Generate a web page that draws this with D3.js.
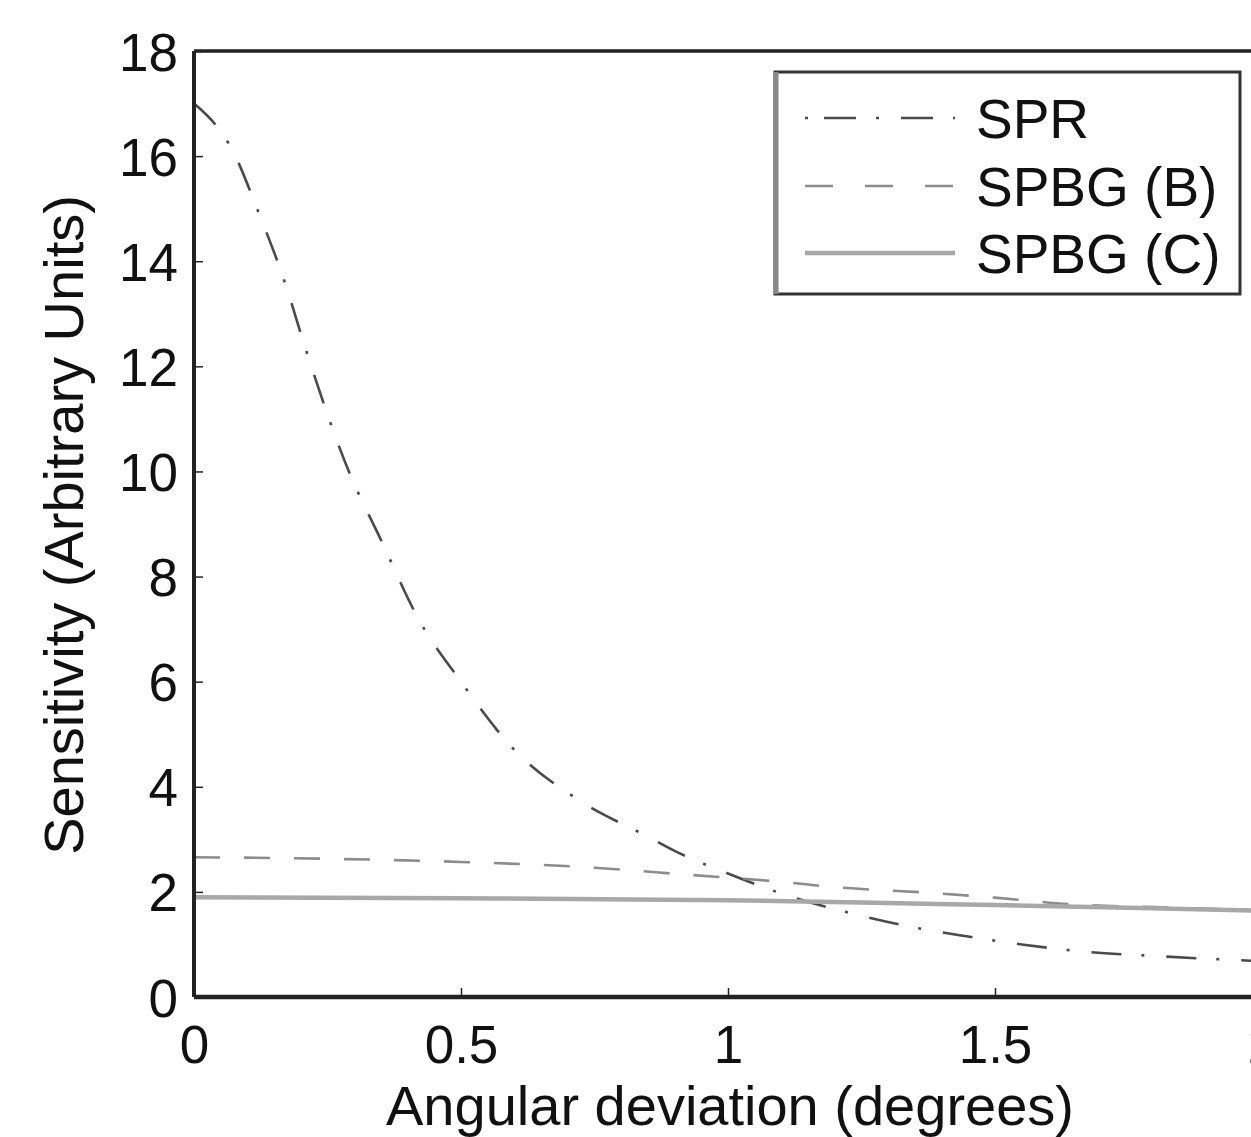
<!DOCTYPE html>
<html>
<head>
<meta charset="utf-8">
<script src="https://cdn.jsdelivr.net/npm/d3@7"></script>
<style>
  html, body { margin: 0; padding: 0; background: #fff; overflow: hidden; }
  svg { display: block; font-family: "Liberation Sans", Arial, sans-serif; }
</style>
</head>
<body>
<script>
// series: [angular deviation (deg), sensitivity]
const sprData = [
  [0, 17.0], [0.04, 16.6], [0.07, 16.15], [0.12, 14.95], [0.17, 13.6], [0.21, 12.3],
  [0.29, 10.0], [0.35, 8.7], [0.42, 7.2], [0.5, 6.0], [0.6, 4.7], [0.72, 3.75],
  [0.85, 3.05], [0.9, 2.78], [1.0, 2.35], [1.1, 1.97], [1.22, 1.62], [1.33, 1.36],
  [1.45, 1.15], [1.55, 1.0], [1.66, 0.87], [1.8, 0.78], [2.0, 0.68]
];
const spbgBData = [
  [0, 2.66], [0.25, 2.63], [0.5, 2.57], [0.75, 2.46], [0.92, 2.33], [1.1, 2.19],
  [1.2, 2.09], [1.38, 1.98], [1.5, 1.89], [1.65, 1.76], [1.8, 1.71], [2.0, 1.65]
];
const spbgCData = [
  [0, 1.90], [0.5, 1.88], [1.0, 1.84], [1.25, 1.80], [1.5, 1.75], [1.75, 1.70], [2.0, 1.64]
];
const xTicks = [0, 0.5, 1, 1.5, 2];
const yTicks = [0, 2, 4, 6, 8, 10, 12, 14, 16, 18];
const seriesNames = ["SPR", "SPBG (B)", "SPBG (C)"];

const W = 1251, H = 1137;
const plotLeft = 194, plotTop = 51, plotBottom = 997, plotRight = 1262;

const svg = d3.select("body").append("svg")
  .attr("width", W).attr("height", H);

const x = d3.scaleLinear().domain([0, 2]).range([plotLeft, plotRight]);
const y = d3.scaleLinear().domain([0, 18]).range([plotBottom, plotTop]);

const styles = [
  { stroke: "#4a4a4a", width: 2.6, dash: "30,20,3,22" },
  { stroke: "#8c8c8c", width: 2.6, dash: "26,24" },
  { stroke: "#a8a8a8", width: 4.5, dash: null }
];

svg.append("defs").append("clipPath").attr("id", "plotclip")
  .append("rect").attr("x", plotLeft).attr("y", plotTop)
  .attr("width", plotRight - plotLeft).attr("height", plotBottom - plotTop);

const line = d3.line()
  .x(d => x(d[0]))
  .y(d => y(d[1]))
  .curve(d3.curveMonotoneX);

const plot = svg.append("g").attr("clip-path", "url(#plotclip)");
[sprData, spbgBData, spbgCData].forEach((data, i) => {
  plot.append("path")
    .datum(data)
    .attr("fill", "none")
    .attr("stroke", styles[i].stroke)
    .attr("stroke-width", styles[i].width)
    .attr("stroke-dasharray", styles[i].dash)
    .attr("d", line);
});

// axes: ticks pointing inward, matlab-like
const gx = svg.append("g").attr("transform", `translate(0,${plotBottom})`)
  .call(d3.axisBottom(x).tickValues(xTicks).tickSize(-9).tickPadding(28)
    .tickFormat(d => String(d)));
const gy = svg.append("g").attr("transform", `translate(${plotLeft},0)`)
  .call(d3.axisLeft(y).tickValues(yTicks).tickSize(-9).tickPadding(16));

[gx, gy].forEach(g => {
  g.select(".domain").remove();
  g.selectAll(".tick line").attr("stroke", "#222").attr("stroke-width", 1.5);
  g.selectAll(".tick text").attr("font-size", 53).attr("fill", "#111")
    .attr("font-family", "Liberation Sans, Arial, sans-serif");
});
gx.selectAll(".tick text").attr("dy", "0.72em");
gy.selectAll(".tick text").attr("dy", "0.36em");

// frame
svg.append("line").attr("x1", plotLeft).attr("x2", W + 5).attr("y1", plotTop).attr("y2", plotTop)
  .attr("stroke", "#222").attr("stroke-width", 3.5);
svg.append("line").attr("x1", plotLeft).attr("x2", W + 5).attr("y1", plotBottom).attr("y2", plotBottom)
  .attr("stroke", "#222").attr("stroke-width", 4.5);
svg.append("line").attr("x1", plotLeft).attr("x2", plotLeft).attr("y1", plotTop).attr("y2", plotBottom)
  .attr("stroke", "#222").attr("stroke-width", 4);

// axis titles
svg.append("text")
  .attr("x", 730).attr("y", 1125)
  .attr("text-anchor", "middle").attr("font-size", 56).attr("fill", "#111")
  .text("Angular deviation (degrees)");
svg.append("text")
  .attr("transform", "translate(83,525) rotate(-90)")
  .attr("text-anchor", "middle").attr("font-size", 56).attr("fill", "#111")
  .text("Sensitivity (Arbitrary Units)");

// legend
const lg = svg.append("g");
lg.append("rect")
  .attr("x", 775).attr("y", 72).attr("width", 465).attr("height", 222)
  .attr("fill", "#fff").attr("stroke", "#333").attr("stroke-width", 3);
lg.append("line").attr("x1", 776).attr("x2", 776).attr("y1", 72).attr("y2", 294)
  .attr("stroke", "#888").attr("stroke-width", 5);
const rowY = [118, 186, 253];
seriesNames.forEach((name, i) => {
  lg.append("line")
    .attr("x1", 805).attr("x2", 955).attr("y1", rowY[i]).attr("y2", rowY[i])
    .attr("stroke", styles[i].stroke)
    .attr("stroke-width", styles[i].width)
    .attr("stroke-dasharray", i === 0 ? "3,16,32,20,3,22,32,20,3" : (i === 1 ? "28,32" : null));
  lg.append("text")
    .attr("x", 976).attr("y", rowY[i]).attr("dy", "0.36em")
    .attr("font-size", 55).attr("fill", "#111")
    .text(name);
});
</script>
</body>
</html>
